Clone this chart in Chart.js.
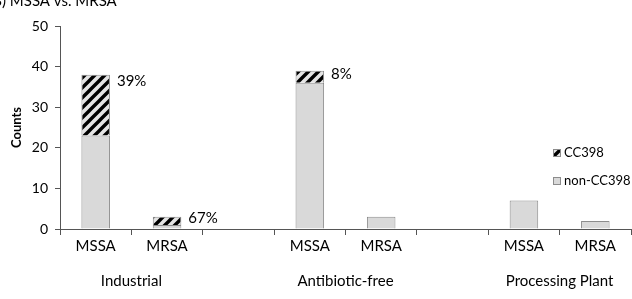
<!DOCTYPE html>
<html>
<head>
<meta charset="utf-8">
<script src="https://cdn.jsdelivr.net/npm/chart.js@4"></script>
<style>
  html, body { margin: 0; padding: 0; background: #fff; }
  #wrap { width: 632px; height: 299px; position: relative; }
</style>
</head>
<body>
<div id="wrap"><canvas id="chart"></canvas></div>
<script>
const categories = ['MSSA', 'MRSA', '', 'MSSA', 'MRSA', '', 'MSSA', 'MRSA'];
const groups = ['Industrial', 'Antibiotic-free', 'Processing Plant'];
const groupStart = [0, 3, 6];
const nonCC398 = [23, 1, null, 36, 3, null, 7, 2];
const cc398 = [15, 2, null, 3, null, null, null, null];
const pctLabels = ['39%', '67%', null, '8%', null, null, null, null];
const yTicks = [0, 10, 20, 30, 40, 50];

const FONT = 'Lato, "Open Sans", sans-serif';
const GRAY = '#d9d9d9';
const EDGE = '#8c8c8c';

let makeHatch = () => {
    const c = document.createElement('canvas');
    c.width = 10;
    c.height = 10;
    const g = c.getContext('2d');
    g.fillStyle = '#e4e4e4';
    g.fillRect(0, 0, 10, 10);
    g.strokeStyle = '#000';
    g.lineWidth = 3.4;
    g.beginPath();
    g.moveTo(-5, 5); g.lineTo(5, -5);
    g.moveTo(0, 10); g.lineTo(10, 0);
    g.moveTo(5, 15); g.lineTo(15, 5);
    g.stroke();
    return g.createPattern(c, 'repeat');
};
const hatch = makeHatch();

// extra text: title, group labels, percentages, legend
const extras = {
    id: 'extras',
    afterDraw(chart) {
        const ctx = chart.ctx;
        const x = chart.scales.x;
        const y = chart.scales.y;
        ctx.save();
        ctx.fillStyle = '#000';

        // title (cut off at the top like the source)
        ctx.font = '15px ' + FONT;
        ctx.textBaseline = 'alphabetic';
        ctx.textAlign = 'left';
        ctx.fillText('B) MSSA vs. MRSA', 2 - ctx.measureText('B').width, 6);

        // group labels
        ctx.font = '15px ' + FONT;
        ctx.textAlign = 'center';
        ctx.textBaseline = 'middle';
        for (let i = 0; i < groups.length; i++) {
            const a = x.getPixelForValue(groupStart[i]);
            const b = x.getPixelForValue(groupStart[i] + 1);
            ctx.fillText(groups[i], (a + b) / 2, 281);
        }

        // percentage labels
        const meta = chart.getDatasetMeta(1);
        ctx.font = '15px ' + FONT;
        ctx.textAlign = 'left';
        for (let i = 0; i < pctLabels.length; i++) {
            if (!pctLabels[i]) continue;
            const bar = meta.data[i];
            const top = nonCC398[i] + cc398[i];
            const mid = y.getPixelForValue(nonCC398[i] + cc398[i] / 2) - 3;
            const right = bar.x + bar.width / 2;
            ctx.fillText(pctLabels[i], right + 7, Math.min(mid, y.getPixelForValue(top) + 6));
        }

        // legend
        const items = [{ label: 'CC398', fill: hatch }, { label: 'non-CC398', fill: GRAY }];
        ctx.font = '13px ' + FONT;
        for (let i = 0; i < items.length; i++) {
            const ly = 153 + i * 28;
            ctx.fillStyle = items[i].fill;
            ctx.fillRect(553, ly - 4, 8, 8);
            ctx.strokeStyle = EDGE;
            ctx.lineWidth = 1;
            ctx.strokeRect(553.5, ly - 3.5, 7, 7);
            ctx.fillStyle = '#000';
            ctx.fillText(items[i].label, 564, ly);
        }
        ctx.restore();
    }
};

new Chart(document.getElementById('chart'), {
    type: 'bar',
    data: {
        labels: categories,
        datasets: [
            {
                label: 'non-CC398',
                data: nonCC398,
                backgroundColor: GRAY,
                borderColor: EDGE,
                borderWidth: 1,
                categoryPercentage: 1,
                barPercentage: 0.4
            },
            {
                label: 'CC398',
                data: cc398,
                backgroundColor: hatch,
                borderColor: EDGE,
                borderWidth: 1,
                categoryPercentage: 1,
                barPercentage: 0.4
            }
        ]
    },
    options: {
        responsive: true,
        maintainAspectRatio: false,
        animation: false,
        layout: { padding: { top: 26, right: 1, left: 0, bottom: 0 } },
        plugins: {
            legend: { display: false },
            tooltip: { enabled: false }
        },
        scales: {
            x: {
                stacked: true,
                grid: { drawOnChartArea: false, offset: true, tickLength: 6, color: '#555' },
                border: { color: '#555', width: 1 },
                ticks: { color: '#000', font: { family: FONT, size: 15 }, padding: 2, maxRotation: 0 },
                afterFit: (s) => { s.height = 70; }
            },
            y: {
                stacked: true,
                min: 0,
                max: 50,
                afterBuildTicks: (s) => { s.ticks = yTicks.map(v => ({ value: v })); },
                grid: { drawOnChartArea: false, tickLength: 5, color: '#555' },
                border: { color: '#555', width: 1 },
                ticks: { color: '#000', font: { family: FONT, size: 14 }, padding: 7 },
                title: { display: true, text: 'Counts', color: '#000', font: { family: FONT, size: 13, weight: 'bold' }, padding: { top: 9, bottom: 0 } },
                afterFit: (s) => { s.width = 60; }
            }
        }
    },
    plugins: [extras]
});
</script>
</body>
</html>
